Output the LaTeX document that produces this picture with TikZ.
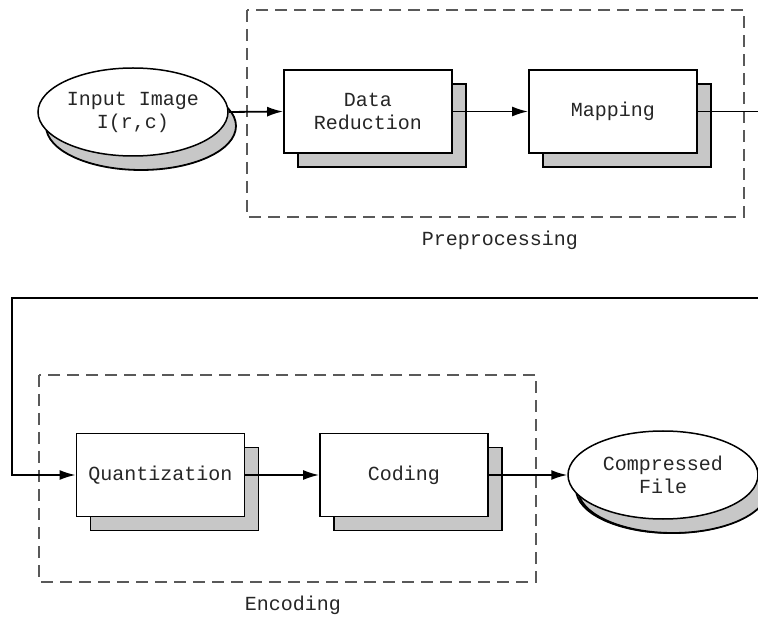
\documentclass[tikz,border=0pt]{standalone}
\usepackage{fontspec}
\setmonofont{Liberation Mono}
\usetikzlibrary{arrows.meta,shapes.geometric,shadows}
\begin{document}
\begin{tikzpicture}[x=1pt,y=-1pt,
  txt/.style={font=\ttfamily\fontsize{20}{23}\selectfont,text=black!85,align=center},
  shade/.style={drop shadow={shadow xshift=#1pt,shadow yshift=-14pt,opacity=1,
      fill=black!22,draw=black,line width=1.8pt}},
  stage/.style={txt,draw,line width=1.8pt,fill=white,minimum width=168pt,
      minimum height=83pt,inner sep=0pt,shade=14},
  terminal/.style={txt,ellipse,draw,line width=1.5pt,fill=white,minimum width=190pt,
      minimum height=88pt,inner sep=0pt,shade=8},
  group/.style={draw=black!65,line width=2.2pt,dash pattern=on 12pt off 7pt},
  flow/.style={line width=1.8pt,-{Latex[length=16pt,width=10pt]}}]
\clip (0,0) rectangle (758,617);
\fill[white] (0,0) rectangle (758,617);

% group frames
\draw[group] (247,10) rectangle (744,217);
\node[txt] (pre) at (500,240) {Preprocessing};
\draw[group] (39,375) rectangle (536,582);
\node[txt] (enc) at (293,605) {Encoding};

% stages
\node[terminal] (in) at (133,112) {Input Image\\I(r,c)};
\node[stage] (dr) at (368,111.5) {Data\\Reduction};
\node[stage] (map) at (613,111.5) {Mapping};
\node[stage] (qu) at (160.5,475) {Quantization};
\node[stage] (cod) at (404,475) {Coding};
\node[terminal,shade=10] (out) at (663,475) {Compressed\\File};

% connectors
\coordinate (r1) at (775,298);
\coordinate (l1) at (12,298);
\draw[flow] (in.east) -- (dr.west);
\draw[flow] (dr.east) -- (map.west);
\draw[flow] (map.east) -| (r1) -- (l1) |- (qu.west);
\draw[flow] (qu.east) -- (cod.west);
\draw[flow] (cod.east) -- (out.west);
\end{tikzpicture}
\end{document}
